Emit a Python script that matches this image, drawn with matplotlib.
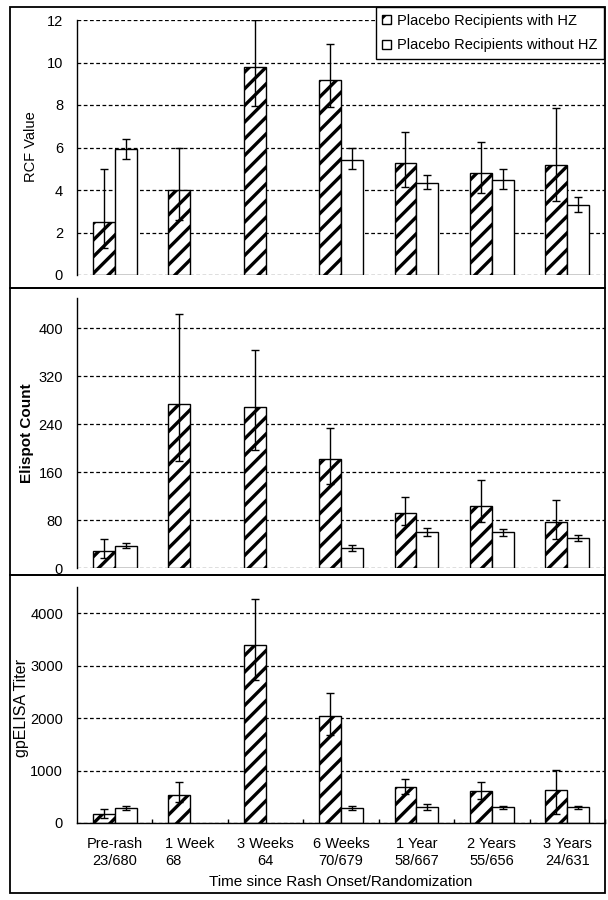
import matplotlib
matplotlib.use("Agg")
import matplotlib.pyplot as plt
import numpy as np
from matplotlib.patches import Rectangle, Patch

plt.rcParams['font.family'] = ['Liberation Sans', 'DejaVu Sans']
plt.rcParams['hatch.linewidth'] = 2.4
plt.rcParams['hatch.color'] = 'black'

categories = ["Pre-rash", "1 Week", "3 Weeks", "6 Weeks", "1 Year", "2 Years", "3 Years"]
counts = ["23/680", "68", "64", "70/679", "58/667", "55/656", "24/631"]

# RCF Value
rcf_hz = [2.5, 4.0, 9.8, 9.2, 5.25, 4.8, 5.2]
rcf_hz_lo = [1.25, 2.6, 7.95, 7.9, 4.15, 3.85, 3.5]
rcf_hz_hi = [5.0, 6.0, 12.0, 10.85, 6.75, 6.25, 7.85]
rcf_no = [5.93, np.nan, np.nan, 5.4, 4.33, 4.47, 3.3]
rcf_no_lo = [5.45, np.nan, np.nan, 4.97, 4.03, 4.03, 2.98]
rcf_no_hi = [6.38, np.nan, np.nan, 5.96, 4.7, 4.97, 3.65]

# Elispot Count
eli_hz = [29, 273, 268, 182, 91, 104, 76]
eli_hz_lo = [17, 178, 197, 140, 71, 76, 49]
eli_hz_hi = [49, 423, 364, 233, 119, 146, 114]
eli_no = [36, np.nan, np.nan, 33, 60, 60, 50]
eli_no_lo = [33, np.nan, np.nan, 28, 53, 54, 45]
eli_no_hi = [41, np.nan, np.nan, 39, 67, 65, 55]

# gpELISA Titer
gp_hz = [178, 541, 3395, 2032, 688, 605, 624]
gp_hz_lo = [102, 401, 2726, 1675, 561, 465, 178]
gp_hz_hi = [268, 777, 4268, 2471, 834, 777, 1006]
gp_no = [287, np.nan, np.nan, 287, 299, 299, 299]
gp_no_lo = [255, np.nan, np.nan, 255, 250, 274, 274]
gp_no_hi = [318, np.nan, np.nan, 318, 363, 325, 325]

labels = ["Placebo Recipients with HZ", "Placebo Recipients without HZ"]

W, H = 608, 900
fig = plt.figure(figsize=(W / 100, H / 100), dpi=100)

def fx(px):
    return px / W

def fy(py):
    return 1 - py / H

def make_axes(top, bottom):
    return fig.add_axes([fx(77), fy(bottom), fx(605) - fx(77), fy(top) - fy(bottom)])

x = np.arange(len(categories))
w = 0.29

def draw(ax, hz, hz_lo, hz_hi, no, no_lo, no_hi, ylim, yticks):
    hz = np.array(hz, float); no = np.array(no, float)
    ax.bar(x - w / 2, hz, w, facecolor='white', edgecolor='black', hatch='//', linewidth=1.0, zorder=2, label=labels[0])
    m = ~np.isnan(no)
    ax.bar(x[m] + w / 2, no[m], w, facecolor='white', edgecolor='black', linewidth=1.0, zorder=2, label=labels[1])
    ax.errorbar(x - w / 2, hz, yerr=[hz - np.array(hz_lo), np.array(hz_hi) - hz], fmt='none',
                ecolor='black', elinewidth=1.0, capsize=3, capthick=1.0, zorder=3)
    ax.errorbar(x[m] + w / 2, no[m], yerr=[no[m] - np.array(no_lo)[m], np.array(no_hi)[m] - no[m]], fmt='none',
                ecolor='black', elinewidth=1.0, capsize=3, capthick=1.0, zorder=3)
    ax.set_xlim(-0.5, 6.5)
    ax.set_ylim(*ylim)
    ax.set_yticks(yticks)
    ax.yaxis.grid(True, linestyle=(0, (3, 2)), color='black', linewidth=0.9)
    ax.set_axisbelow(True)
    for s in ['top', 'right', 'bottom']:
        ax.spines[s].set_visible(False)
    ax.spines['left'].set_linewidth(1.0)
    ax.tick_params(axis='y', length=0, pad=10, labelsize=10.5)
    ax.set_xticks([])

ax1 = make_axes(20, 275)
draw(ax1, rcf_hz, rcf_hz_lo, rcf_hz_hi, rcf_no, rcf_no_lo, rcf_no_hi, (0, 12), np.arange(0, 13, 2))
ax2 = make_axes(298, 568)
draw(ax2, eli_hz, eli_hz_lo, eli_hz_hi, eli_no, eli_no_lo, eli_no_hi, (0, 450), np.arange(0, 401, 80))
ax3 = make_axes(587, 823)
draw(ax3, gp_hz, gp_hz_lo, gp_hz_hi, gp_no, gp_no_lo, gp_no_hi, (0, 4500), np.arange(0, 4001, 1000))
ax3.spines['bottom'].set_visible(True)
ax3.spines['bottom'].set_linewidth(1.0)
ax3.set_xticks(np.arange(0.5, 7, 1))
ax3.set_xticklabels([])
ax3.tick_params(axis='x', which='major', direction='in', length=3, width=1)
ax3.set_xticks(x, minor=True)
tl = ax3.set_xticklabels([f"{c}\n{n}" for c, n in zip(categories, counts)], minor=True)
ax3.tick_params(axis='x', which='minor', length=0, pad=10, labelsize=10.5)
for i, t in enumerate(tl):
    t.set_linespacing(1.25)
    if i == 1:
        t.set_multialignment('left')

fig.text(fx(31), fy(147), "RCF Value", rotation=90, ha='center', va='center', fontsize=10.5)
fig.text(fx(27), fy(433), "Elispot Count", rotation=90, ha='center', va='center', fontsize=11, fontweight='bold')
fig.text(fx(22), fy(708), "gpELISA Titer", rotation=90, ha='center', va='center', fontsize=11.5)
fig.text(fx(341), fy(882), "Time since Rash Onset/Randomization", ha='center', va='center', fontsize=11)

# panel borders
for top, bottom in [(7, 288), (288, 575), (575, 893)]:
    fig.add_artist(Rectangle((fx(10), fy(bottom)), fx(605) - fx(10), fy(top) - fy(bottom),
                             transform=fig.transFigure, fill=False, edgecolor='black', linewidth=1.3))

handles = [Patch(facecolor='white', edgecolor='black', hatch='//', label=labels[0]),
           Patch(facecolor='white', edgecolor='black', label=labels[1])]
leg = fig.legend(handles=handles, loc='upper right', bbox_to_anchor=(fx(604), fy(7)),
                 bbox_transform=fig.transFigure, borderaxespad=0, fancybox=False, frameon=True,
                 fontsize=10.5, handlelength=0.6, handleheight=0.6, handletextpad=0.4,
                 labelspacing=0.75, borderpad=0.45, framealpha=1)
leg.get_frame().set_edgecolor('black')
leg.get_frame().set_linewidth(1.0)

fig.savefig("out.png", dpi=100)
